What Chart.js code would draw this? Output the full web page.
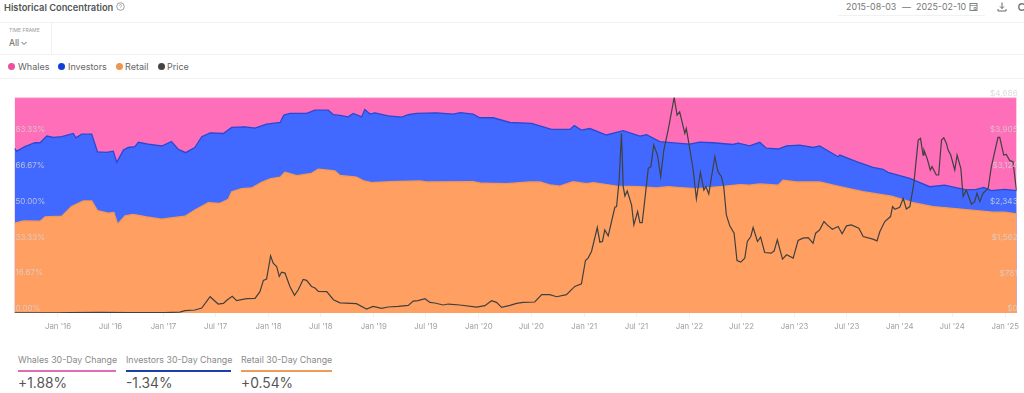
<!DOCTYPE html>
<html>
<head>
<meta charset="utf-8">
<title>Historical Concentration</title>
<script src="https://cdn.jsdelivr.net/npm/chart.js@4/dist/chart.umd.min.js"></script>
<style>
    html, body { margin: 0; padding: 0; background: #fff; }
    body { width: 1024px; height: 393px; overflow: hidden; position: relative; font-family: Inter, "Noto Sans", sans-serif; color: #666; }
    .abs { position: absolute; white-space: nowrap; line-height: 1; }
    .rule { position: absolute; background: #f1f1f1; }
    .dot { position: absolute; width: 7px; height: 7px; border-radius: 50%; top: 63px; }
    .leg { top: 61.5px; font-size: 9px; color: #666; }
    .chg { top: 355.5px; font-size: 8.8px; color: #8a8a8a; }
    .val { top: 377px; font-size: 13.8px; color: #555; }
    .bar { position: absolute; top: 370px; height: 1.5px; }
    #chartWrap { position: absolute; left: 0; top: 80px; width: 1024px; height: 268px; }
</style>
</head>
<body>
<div class="abs" style="left:4px;top:2.5px;font-size:9.3px;font-weight:600;color:#555">Historical Concentration</div>
<svg class="abs" style="left:116px;top:2px" width="9" height="9" viewBox="0 0 9 9"><circle cx="4.5" cy="4.5" r="3.8" fill="none" stroke="#888" stroke-width="0.8"/><path d="M3.4 3.6a1.1 1.1 0 1 1 1.6 1c-.4.2-.5.4-.5.8" fill="none" stroke="#888" stroke-width="0.7"/></svg>

<div class="rule" style="left:838px;top:15px;width:147px;height:1px"></div>
<div class="abs" style="left:846px;top:2.5px;font-size:8.9px;color:#777">2015-08-03</div>
<div class="abs" style="left:902px;top:2.5px;font-size:8.9px;color:#777">—</div>
<div class="abs" style="left:916px;top:2.5px;font-size:8.9px;color:#777">2025-02-10</div>
<svg class="abs" style="left:969px;top:2px" width="9" height="9" viewBox="0 0 9 9"><rect x="1" y="1.5" width="7" height="7" fill="none" stroke="#777" stroke-width="0.9"/><path d="M1 3.5h7M5 5.5h2v2H5z" stroke="#777" stroke-width="0.7" fill="none"/></svg>
<svg class="abs" style="left:997px;top:2px" width="10" height="10" viewBox="0 0 10 10"><path d="M5 0.5v6M3 4.5l2 2 2-2M1 7v2h8V7" fill="none" stroke="#666" stroke-width="1"/></svg>
<svg class="abs" style="left:1017px;top:2px" width="7" height="10" viewBox="0 0 7 10"><circle cx="5" cy="5" r="3.2" fill="none" stroke="#777" stroke-width="1.4"/></svg>

<div class="rule" style="left:0;top:22px;width:1024px;height:1px"></div>
<div class="rule" style="left:51px;top:23px;width:1px;height:31px"></div>
<div class="rule" style="left:0;top:54px;width:1024px;height:1px"></div>
<div class="rule" style="left:0;top:78px;width:1024px;height:1px"></div>

<div class="abs" style="left:9px;top:28px;font-size:5px;color:#999">TIME FRAME</div>
<div class="abs" style="left:9px;top:39px;font-size:8.7px;color:#666">All</div>
<svg class="abs" style="left:21px;top:41px" width="6" height="5" viewBox="0 0 6 5"><path d="M.5 1l2.5 2.5L5.5 1" fill="none" stroke="#666" stroke-width="1"/></svg>

<span class="dot" style="left:8px;background:#ee4f9f"></span><div class="abs leg" style="left:18px">Whales</div>
<span class="dot" style="left:58px;background:#0f3fd8"></span><div class="abs leg" style="left:68px">Investors</div>
<span class="dot" style="left:116px;background:#ee9650"></span><div class="abs leg" style="left:125px">Retail</div>
<span class="dot" style="left:158px;background:#444"></span><div class="abs leg" style="left:167px">Price</div>

<div id="chartWrap"><canvas id="concentrationChart" width="1024" height="268"></canvas></div>

<div class="abs chg" style="left:18px">Whales 30-Day Change</div>
<div class="bar" style="left:18px;width:98px;background:#e06cb4"></div>
<div class="abs val" style="left:18px">+1.88%</div>
<div class="abs chg" style="left:126px">Investors 30-Day Change</div>
<div class="bar" style="left:126px;width:105px;background:#1d3fa8"></div>
<div class="abs val" style="left:126px">-1.34%</div>
<div class="abs chg" style="left:241px">Retail 30-Day Change</div>
<div class="bar" style="left:241px;width:91px;background:#ee9a5a"></div>
<div class="abs val" style="left:241px">+0.54%</div>

<script>
// All x values are days since the first date on the chart
const startDate = '2015-08-03';

// Top edge of each band
const whalesDays = [0, 3479];
const whalesTop = [100, 100];

const investorsDays = [0, 8, 36, 71, 89, 112, 135, 164, 204, 213, 233, 268, 288, 320, 343, 355, 378, 395, 418, 430, 464, 511, 545, 569, 594, 626, 650, 679, 725, 754, 800, 835, 875, 922, 935, 956, 1014, 1043, 1089, 1107, 1130, 1158, 1176, 1205, 1216, 1234, 1251, 1297, 1344, 1367, 1396, 1465, 1523, 1548, 1592, 1615, 1662, 1720, 1795, 1864, 1928, 1943, 1968, 1997, 2055, 2113, 2171, 2194, 2240, 2310, 2344, 2379, 2425, 2494, 2512, 2552, 2587, 2610, 2651, 2680, 2726, 2772, 2795, 2859, 2865, 2923, 2980, 3015, 3032, 3108, 3177, 3229, 3304, 3339, 3365, 3391, 3437, 3479];
const investorsTop = [76.4, 75.1, 77.2, 79.0, 79.0, 82.1, 81.5, 81.8, 83.3, 81.3, 83.0, 83.0, 74.8, 74.5, 75.1, 69.9, 75.6, 76.8, 77.2, 79.2, 78.4, 77.5, 79.6, 75.9, 74.4, 76.8, 81.8, 83.6, 83.3, 86.1, 86.4, 85.8, 87.6, 88.4, 91.8, 92.6, 92.6, 94.1, 94.1, 92.0, 91.7, 91.0, 92.6, 91.0, 94.4, 92.3, 92.9, 91.5, 90.9, 92.0, 92.6, 92.9, 92.3, 93.0, 92.3, 90.6, 90.6, 88.4, 88.0, 85.2, 85.2, 87.0, 84.9, 85.6, 82.6, 84.6, 82.1, 82.7, 79.5, 78.7, 78.4, 79.3, 79.0, 78.2, 78.8, 77.6, 79.2, 76.5, 76.1, 77.6, 77.9, 76.8, 77.5, 72.5, 73.3, 70.2, 67.6, 66.7, 65.3, 62.5, 58.6, 59.3, 57.1, 57.4, 58.3, 56.8, 57.4, 56.8];

const retailDays = [0, 31, 89, 106, 164, 198, 239, 268, 288, 326, 345, 358, 384, 412, 459, 511, 551, 592, 626, 673, 713, 742, 754, 788, 823, 858, 887, 922, 939, 980, 1031, 1055, 1089, 1112, 1130, 1187, 1210, 1239, 1303, 1407, 1430, 1592, 1621, 1708, 1789, 1824, 1858, 1893, 1939, 1986, 2009, 2090, 2171, 2229, 2269, 2310, 2367, 2460, 2518, 2552, 2587, 2651, 2668, 2714, 2795, 2865, 2946, 3044, 3119, 3189, 3293, 3397, 3437, 3479];
const retailTop = [41.7, 42.7, 42.6, 44.6, 44.9, 49.4, 52.0, 52.0, 47.5, 46.3, 46.6, 41.2, 45.1, 45.8, 44.6, 43.5, 44.3, 44.9, 47.8, 51.2, 50.9, 52.8, 56.3, 57.7, 58.0, 60.6, 62.2, 63.0, 65.3, 63.7, 64.8, 66.7, 66.3, 65.9, 63.8, 63.1, 61.4, 60.5, 60.9, 61.3, 60.8, 60.9, 60.2, 60.0, 60.8, 60.8, 59.4, 58.9, 60.9, 60.0, 60.5, 58.9, 58.6, 58.0, 58.6, 58.2, 57.7, 58.8, 59.6, 59.3, 59.9, 59.3, 61.6, 60.8, 60.8, 58.6, 56.3, 54.2, 51.2, 49.4, 48.1, 46.8, 46.8, 46.0];

const priceDays = [0, 150, 190, 300, 400, 520, 574, 592, 626, 650, 679, 707, 725, 739, 756, 771, 806, 835, 852, 864, 875, 889, 898, 910, 919, 927, 939, 956, 972, 985, 1002, 1014, 1031, 1043, 1055, 1084, 1107, 1130, 1187, 1222, 1245, 1274, 1297, 1332, 1367, 1384, 1401, 1425, 1442, 1459, 1488, 1506, 1546, 1604, 1633, 1656, 1673, 1691, 1720, 1743, 1766, 1806, 1830, 1858, 1882, 1916, 1945, 1968, 1982, 1991, 2003, 2023, 2032, 2041, 2049, 2061, 2084, 2090, 2099, 2107, 2113, 2119, 2127, 2142, 2150, 2163, 2171, 2179, 2188, 2200, 2209, 2219, 2232, 2243, 2254, 2269, 2290, 2300, 2309, 2327, 2332, 2342, 2356, 2367, 2381, 2393, 2400, 2410, 2431, 2442, 2454, 2462, 2471, 2483, 2498, 2508, 2521, 2535, 2544, 2556, 2564, 2579, 2590, 2604, 2627, 2637, 2648, 2666, 2680, 2703, 2720, 2737, 2755, 2772, 2781, 2795, 2810, 2821, 2839, 2859, 2873, 2888, 2905, 2931, 2946, 2980, 2994, 3004, 3021, 3041, 3048, 3056, 3073, 3085, 3096, 3108, 3122, 3137, 3145, 3154, 3157, 3168, 3179, 3185, 3200, 3208, 3218, 3226, 3235, 3241, 3250, 3264, 3272, 3285, 3293, 3304, 3322, 3333, 3341, 3351, 3362, 3380, 3391, 3414, 3420, 3434, 3443, 3455, 3466, 3478];
const priceValues = [1, 1, 6, 12, 10, 8, 20, 50, 65, 108, 354, 195, 210, 289, 362, 268, 311, 318, 463, 709, 738, 1244, 1085, 1012, 795, 889, 868, 578, 383, 506, 730, 709, 578, 542, 470, 463, 289, 220, 202, 87, 145, 101, 130, 145, 166, 260, 268, 311, 231, 217, 174, 195, 174, 130, 159, 268, 231, 123, 166, 210, 231, 239, 398, 398, 354, 398, 578, 636, 1142, 1193, 1338, 1858, 1540, 1555, 1808, 1678, 2299, 2314, 2892, 3905, 2748, 2545, 2654, 2350, 1916, 2205, 1967, 1967, 2459, 3146, 3182, 3652, 3435, 2965, 3543, 3977, 4686, 4302, 4375, 3905, 4013, 3652, 3109, 2480, 3059, 2675, 2748, 2589, 3399, 3073, 2965, 2748, 2133, 1895, 1735, 1142, 1106, 1193, 1555, 1663, 1858, 1555, 1649, 1316, 1302, 1352, 1591, 1171, 1265, 1193, 1576, 1627, 1641, 1519, 1735, 1808, 1989, 1916, 1822, 1880, 1721, 1895, 1916, 1844, 1663, 1605, 1569, 1772, 1989, 2097, 2314, 2256, 2299, 2495, 2263, 2314, 2820, 3760, 3796, 3435, 3543, 3362, 3109, 3182, 3001, 3001, 3760, 3811, 3688, 3543, 3435, 3109, 3435, 3145, 2531, 2675, 2365, 2422, 2603, 2422, 2603, 2712, 3182, 3818, 3818, 3435, 3449, 3312, 3290, 2675];

// Tick labels
const shareTicks = [0, 16.67, 33.33, 50, 66.67, 83.33];
const priceTicks = [0, 781, 1562, 2343, 3124, 3905, 4686];
const priceLabels = ['$0', '$781', '$1,562', '$2,343', '$3,124', '$3,905', '$4,686'];
const monthDates = ['2016-01-01', '2016-07-01', '2017-01-01', '2017-07-01', '2018-01-01', '2018-07-01', '2019-01-01', '2019-07-01', '2020-01-01', '2020-07-01', '2021-01-01', '2021-07-01', '2022-01-01', '2022-07-01', '2023-01-01', '2023-07-01', '2024-01-01', '2024-07-01', '2025-01-01'];
const monthLabels = ["Jan '16", "Jul '16", "Jan '17", "Jul '17", "Jan '18", "Jul '18", "Jan '19", "Jul '19", "Jan '20", "Jul '20", "Jan '21", "Jul '21", "Jan '22", "Jul '22", "Jan '23", "Jul '23", "Jan '24", "Jul '24", "Jan '25"];

// Function to turn a date into days since the start
function toDays(date) {
    return Math.round((Date.parse(date) - Date.parse(startDate)) / 86400000);
}

// Function to pair up x and y arrays
function toPoints(days, values) {
    return days.map((d, i) => ({ x: d, y: values[i] }));
}

const monthTicks = monthDates.map(toDays);
const faintLabel = 'rgba(212, 212, 212, 0.8)';

function bandDataset(label, days, values, fillColor, lineColor, order) {
    return {
        label: label,
        data: toPoints(days, values),
        yAxisID: 'y',
        backgroundColor: fillColor,
        borderColor: lineColor,
        borderWidth: 1.3,
        fill: 'origin',
        pointRadius: 0,
        tension: 0,
        order: order
    };
}

new Chart(document.getElementById('concentrationChart').getContext('2d'), {
    type: 'line',
    data: {
        datasets: [
            {
                label: 'Price',
                data: toPoints(priceDays, priceValues),
                yAxisID: 'y2',
                borderColor: '#404040',
                borderWidth: 1.2,
                fill: false,
                pointRadius: 0,
                tension: 0,
                order: 1
            },
            bandDataset('Retail', retailDays, retailTop, '#ffa062', '#f8984f', 2),
            bandDataset('Investors', investorsDays, investorsTop, '#4169ff', '#2a48d2', 3),
            bandDataset('Whales', whalesDays, whalesTop, '#ff6eb8', '#f6a6d2', 4)
        ]
    },
    options: {
        responsive: false,
        animation: false,
        parsing: true,
        layout: { padding: { left: 14.5, right: 7, top: 17.5, bottom: 15 } },
        plugins: { legend: { display: false }, tooltip: { enabled: false } },
        scales: {
            x: {
                type: 'linear',
                min: 0,
                max: 3479,
                afterBuildTicks: (scale) => { scale.ticks = monthTicks.map(v => ({ value: v })); },
                afterFit: (scale) => { scale.height = 20; },
                grid: { display: true, drawOnChartArea: false, tickLength: 4, color: '#f0f0f0' },
                border: { display: false },
                ticks: {
                    autoSkip: false,
                    maxRotation: 0,
                    padding: 5,
                    color: '#a0a0a0',
                    font: { family: 'Inter', size: 7.8 },
                    callback: (value) => monthLabels[monthTicks.indexOf(value)]
                }
            },
            y: {
                position: 'left',
                min: 0,
                max: 100,
                afterBuildTicks: (scale) => { scale.ticks = shareTicks.map(v => ({ value: v })); },
                afterFit: (scale) => { scale.width = 0; },
                grid: { display: false },
                border: { display: false },
                ticks: {
                    mirror: true,
                    z: 1,
                    padding: 1,
                    labelOffset: -4,
                    autoSkip: false,
                    color: faintLabel,
                    font: { family: 'Inter', size: 8 },
                    callback: (value) => value.toFixed(2) + '%'
                }
            },
            y2: {
                position: 'right',
                min: 0,
                max: 4686,
                afterBuildTicks: (scale) => { scale.ticks = priceTicks.map(v => ({ value: v })); },
                afterFit: (scale) => { scale.width = 0; },
                grid: { display: false },
                border: { display: false },
                ticks: {
                    mirror: true,
                    z: 1,
                    padding: 1,
                    labelOffset: -4,
                    autoSkip: false,
                    color: faintLabel,
                    font: { family: 'Inter', size: 8.2 },
                    callback: (value) => priceLabels[priceTicks.indexOf(value)]
                }
            }
        }
    }
});
</script>
</body>
</html>
